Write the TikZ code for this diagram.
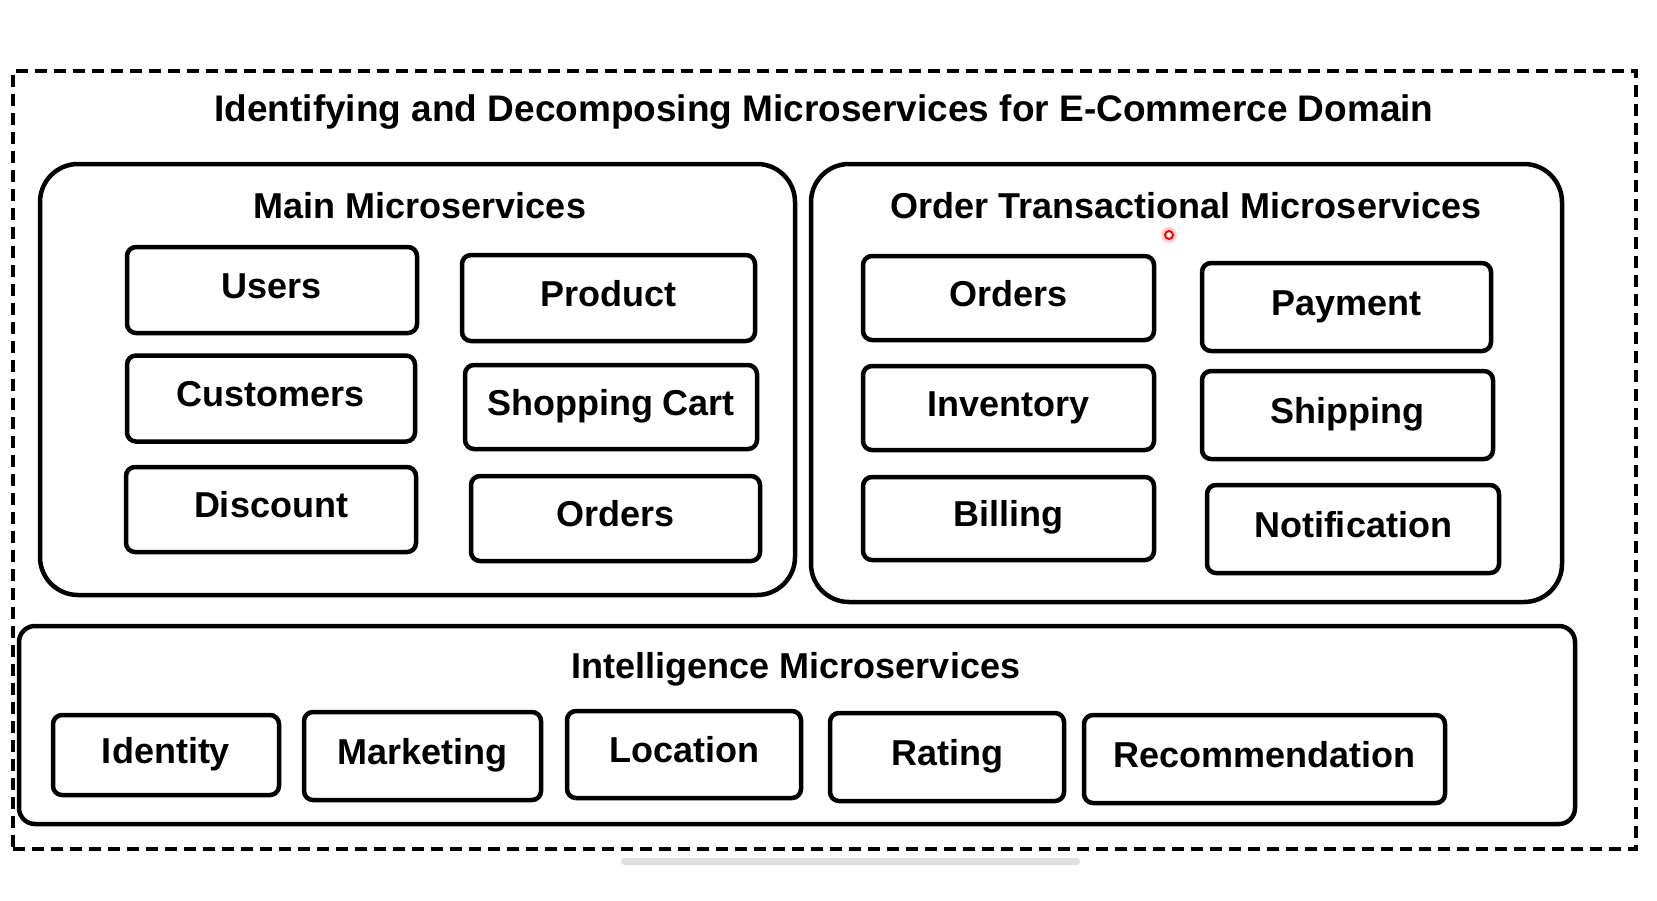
\documentclass[tikz,border=0pt]{standalone}
\usepackage{fontspec}
\setmainfont{Liberation Sans}
\tikzset{
  svcbox/.style={draw, line width=4.5pt, rounded corners=9pt, minimum height=86pt,
    text height=26pt, text depth=10pt, font=\bfseries\fontsize{36pt}{42pt}\selectfont},
  groupbox/.style={draw, line width=4.5pt, rounded corners=38pt},
  grouptitle/.style={text height=26pt, text depth=0pt, font=\bfseries\fontsize{36pt}{42pt}\selectfont},
}
\begin{document}
\begin{tikzpicture}[x=1pt, y=-1pt]
  \useasboundingbox (0,0) rectangle (1657,900);
  \node[draw, line width=4.5pt, dash pattern=on 12pt off 7pt, minimum width=1623pt, minimum height=778pt]
    (domain) at (824.4,460) {};
  \node[grouptitle, font=\bfseries\fontsize{37pt}{42pt}\selectfont] (domaintitle) at (824,108)
    {Identifying and Decomposing Microservices for E-Commerce Domain};
  % main microservices
  \node[groupbox, minimum width=755pt, minimum height=431pt] (main) at (417.5,379.5) {};
  \node[grouptitle] (maintitle) at (420,205) {Main Microservices};
  \node[svcbox, minimum width=290pt] (users) at (272,290) {Users};
  \node[svcbox, minimum width=293pt] (product) at (608.5,298) {Product};
  \node[svcbox, minimum width=288pt] (customers) at (271,398.5) {Customers};
  \node[svcbox, minimum width=292pt, minimum height=84pt] (cart) at (611,407) {Shopping Cart};
  \node[svcbox, minimum width=290pt, minimum height=85pt] (discount) at (271,509.5) {Discount};
  \node[svcbox, minimum width=289pt, minimum height=85pt] (orders) at (615.5,518.5) {Orders};
  % order transactional microservices
  \node[groupbox, minimum width=751pt, minimum height=438pt] (order) at (1186.5,383) {};
  \node[grouptitle] (ordertitle) at (1186,205) {Order Transactional Microservices};
  \node[svcbox, minimum width=291pt, minimum height=84pt] (torders) at (1008.5,298) {Orders};
  \node[svcbox, minimum width=289pt, minimum height=88pt] (payment) at (1346.5,307) {Payment};
  \node[svcbox, minimum width=291pt, minimum height=84pt] (inventory) at (1008.5,408) {Inventory};
  \node[svcbox, minimum width=291pt, minimum height=88pt] (shipping) at (1347.5,415) {Shipping};
  \node[svcbox, minimum width=291pt, minimum height=83pt] (billing) at (1008.5,518.5) {Billing};
  \node[svcbox, minimum width=292pt, minimum height=88pt] (notification) at (1353,529) {Notification};
  % intelligence microservices
  \node[groupbox, rounded corners=16pt, minimum width=1556pt, minimum height=198pt] (intel) at (797,725) {};
  \node[grouptitle] (inteltitle) at (796,665) {Intelligence Microservices};
  \node[svcbox, minimum width=226pt, minimum height=80pt] (identity) at (166,755) {Identity};
  \node[svcbox, minimum width=237pt, minimum height=88pt] (marketing) at (422.5,756) {Marketing};
  \node[svcbox, minimum width=234pt, minimum height=87pt] (location) at (684,754.5) {Location};
  \node[svcbox, minimum width=234pt, minimum height=88pt] (rating) at (947,757) {Rating};
  \node[svcbox, minimum width=361pt, minimum height=88pt] (recommendation) at (1264.5,759) {Recommendation};
  % screen marks
  \fill[black!12, rounded corners=3.5pt] (621,858) rectangle (1080,865);
  \fill[red!18] (1169,235) circle[radius=8];
  \draw[red, line width=2pt, fill=white] (1169,235) circle[radius=4];
\end{tikzpicture}
\end{document}
